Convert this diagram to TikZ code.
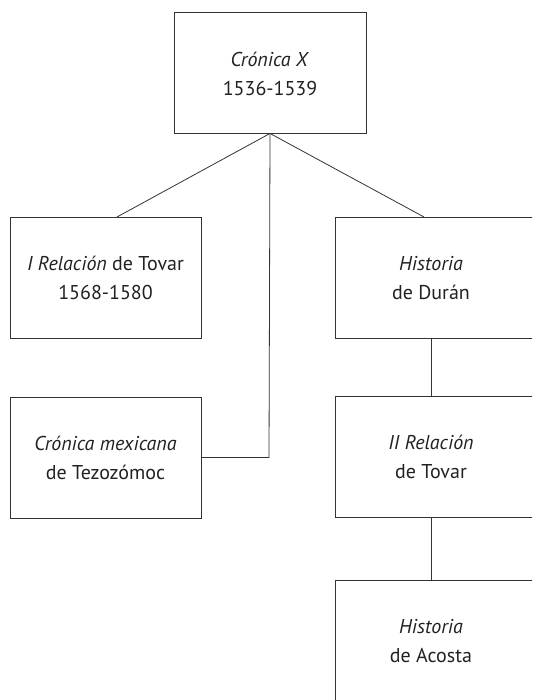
\documentclass[tikz,border=0pt]{standalone}
\usepackage{fontspec}
\setmainfont{PT Sans}
\definecolor{linecol}{HTML}{333333}
\definecolor{textcol}{HTML}{222222}
\begin{document}
\begin{tikzpicture}[x=1pt,y=-1pt,
  box/.style={draw=linecol, line width=0.9pt, minimum height=121pt, inner sep=0pt},
  lbl/.style={align=center, text=textcol, font=\fontsize{20}{29}\selectfont},
  conn/.style={draw=linecol, line width=0.8pt}]
\useasboundingbox (0,0) rectangle (532,700);
\clip (0,0) rectangle (532,700);
\fill[white] (0,0) rectangle (532,700);
% boxes
\node[box, minimum width=192pt] (top) at (270,72.5) {};
\node[lbl] (toptxt) at (270,73.5) {\textit{Crónica X}\\1536-1539};
\node[box, minimum width=191pt] (l1) at (105.5,277.5) {};
\node[lbl] (l1txt) at (105.5,278) {\textit{I Relación} de Tovar\\1568-1580};
\node[box, minimum width=191pt] (l2) at (105.5,457.5) {};
\node[lbl] (l2txt) at (105.5,458) {\textit{Crónica mexicana}\\de Tezozómoc};
\node[box, minimum width=220pt] (r1) at (445,277.5) {};
\node[lbl] (r1txt) at (431,278) {\textit{Historia}\\de Durán};
\node[box, minimum width=220pt] (r2) at (445,456.5) {};
\node[lbl] (r2txt) at (431,457) {\textit{II Relación}\\de Tovar};
\node[box, minimum width=220pt] (r3) at (445,640.5) {};
\node[lbl] (r3txt) at (431,641) {\textit{Historia}\\de Acosta};
% connectors
\coordinate (hub) at (top.south);
\coordinate (l1in) at (117,217);
\coordinate (r1in) at (424,217);
\coordinate (bend) at (269,457.5);
\draw[conn] (hub) -- (l1in);
\draw[conn] (hub) -- (r1in);
\draw[conn] (hub) -- (bend) -- (l2.east);
\draw[conn] (431,338) -- (431,396);
\draw[conn] (431,517) -- (431,580);
\end{tikzpicture}
\end{document}
